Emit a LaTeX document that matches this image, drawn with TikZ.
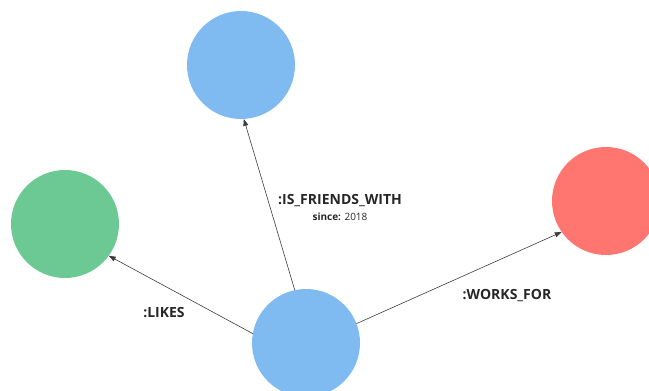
\documentclass[tikz,border=0pt]{standalone}
\usepackage{fontspec}
\setmainfont{Open Sans}
\usetikzlibrary{arrows.meta}
\definecolor{nodeblue}{RGB}{127,186,240}
\definecolor{nodegreen}{RGB}{109,201,148}
\definecolor{nodered}{RGB}{255,117,112}
\definecolor{edgegray}{RGB}{60,60,60}
\begin{document}
\begin{tikzpicture}[x=1pt,y=-1pt,
  graphnode/.style={circle,minimum size=108pt,inner sep=0pt,outer sep=0pt},
  rel/.style={draw=edgegray,line width=0.6pt,-{Triangle[length=7pt,width=5pt]}},
  rellabel/.style={font=\bfseries\fontsize{14}{16}\selectfont,text=black!85}]
  \useasboundingbox (0,0) rectangle (649,391);
  \clip (0,0) rectangle (649,391);
  \node[graphnode,fill=nodeblue] (friend) at (241,65) {};
  \node[graphnode,fill=nodegreen] (liked) at (65,224) {};
  \node[graphnode,fill=nodered] (employer) at (606,201) {};
  \node[graphnode,fill=nodeblue] (person) at (306,343) {};
  \draw[rel] (person.102) -- (friend.-87);
  \draw[rel] (person.170) -- (liked.-36);
  \draw[rel] (person.21) -- (employer.215);
  \node[rellabel] (friendlbl) at (340,201) {:IS\_FRIENDS\_WITH};
  \node[font=\fontsize{10}{12}\selectfont,text=black!85] (sincelbl) at (340,217) {\textbf{since:} 2018};
  \node[rellabel] (likeslbl) at (164,313) {:LIKES};
  \node[rellabel] (workslbl) at (507,296) {:WORKS\_FOR};
\end{tikzpicture}
\end{document}
